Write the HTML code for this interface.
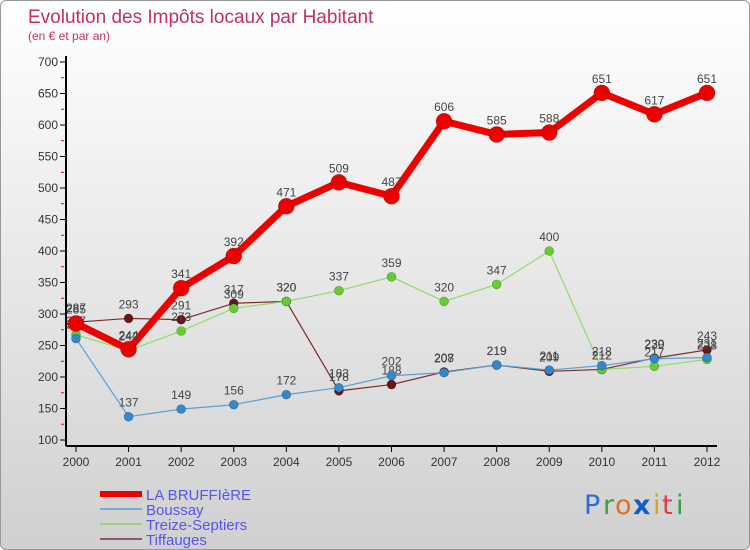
<!DOCTYPE html>
<html><head><meta charset="utf-8"><style>
body{margin:0;width:750px;height:550px;overflow:hidden;font-family:"Liberation Sans",sans-serif}
#wrap{position:absolute;left:0;top:0;width:748px;height:548px;border:1px solid #999;border-radius:6px;background:linear-gradient(#ffffff,#d0d0d0);overflow:hidden}
</style></head><body>
<div id="wrap">
<svg id="chart" width="750" height="550">
<text x="27" y="22" font-size="19" fill="#c0306a">Evolution des Impôts locaux par Habitant</text>
<text x="27" y="39" font-size="12" fill="#c0306a">(en € et par an)</text>
<g id="axes"></g><g id="series"></g><g id="legend"></g>
<g font-size="27" font-family="DejaVu Sans, sans-serif">
<text x="583" y="513" fill="#2a6fd0">P</text><text x="602" y="513" fill="#3aa040">r</text><text x="614" y="513" fill="#e07020">o</text><text x="632" y="513" fill="#1060c0" font-weight="bold">x</text><text x="652" y="513" fill="#e0a020">i</text><text x="661" y="513" fill="#e04040">t</text><text x="675" y="513" fill="#30a040">i</text>
</g>
</svg></div>
<script>
const years=["2000","2001","2002","2003","2004","2005","2006","2007","2008","2009","2010","2011","2012"];
const yTicks=[100,150,200,250,300,350,400,450,500,550,600,650,700];
const laBruffiere=[285,244,341,392,471,509,487,606,585,588,651,617,651];
const boussay=[261,137,149,156,172,183,202,207,219,211,218,229,231];
const treize=[267,242,273,309,320,337,359,320,347,400,212,217,228];
const tiffauges=[287,293,291,317,320,178,188,208,219,209,212,230,243];
const seriesNames=["LA BRUFFIèRE","Boussay","Treize-Septiers","Tiffauges"];
const NS="http://www.w3.org/2000/svg";
const X=i=>75+i*(631/12);
const Y=v=>439-(v-100)*0.63;
function mk(tag,attrs,parent){const e=document.createElementNS(NS,tag);for(const k in attrs)e.setAttribute(k,attrs[k]);parent.appendChild(e);return e;}
const ax=document.getElementById('axes');
let yl=mk('line',{x1:65,y1:55,x2:65,y2:445,stroke:'#000','stroke-width':2},ax);


let xl=mk('line',{x1:65,y1:445,x2:716,y2:445,stroke:'#000','stroke-width':2},ax);


yTicks.forEach((v,i)=>{
  mk('line',{x1:59,y1:Y(v),x2:65,y2:Y(v),stroke:'#000'},ax);
  if(i<yTicks.length-1) mk('line',{x1:60,y1:Y(v+25),x2:63,y2:Y(v+25),stroke:'#e00'},ax);
  const t=mk('text',{x:57,y:Y(v)+4,'text-anchor':'end','font-size':12,fill:'#333'},ax);t.textContent=v;
  
  
});
years.forEach((y,i)=>{
  mk('line',{x1:X(i),y1:445,x2:X(i),y2:451,stroke:'#000'},ax);
  const t=mk('text',{x:X(i),y:465,'text-anchor':'middle','font-size':12,fill:'#333'},ax);t.textContent=y;
  
  
});
const sg=document.getElementById('series');
const defs=[[tiffauges,'#7a2a2a','#6a1515',1.2,4.5,'tiffauges'],[treize,'#8fdc6a','#66cc33',1.2,4.5,'treize-septiers'],[boussay,'#5a9fd4','#3388cc',1.2,4.5,'boussay'],[laBruffiere,'#ee0000','#ee0000',7,8,'la-bruffiere']];
defs.forEach(([d,c,fc,w,r,n])=>{
  const g=mk('g',{},sg);
  
  
  const p=mk('polyline',{points:d.map((v,i)=>X(i)+','+Y(v)).join(' '),fill:'none',stroke:c,'stroke-width':w,'stroke-linejoin':'round'},g);
  
  
  d.forEach((v,i)=>{
    const cc=mk('circle',{cx:X(i),cy:Y(v),r:r,fill:fc,stroke:'rgba(0,0,0,0.3)','stroke-width':0.6},g);
    
    
    const t=mk('text',{x:X(i),y:Y(v)-10,'text-anchor':'middle','font-size':12,fill:'#444'},g);t.textContent=v;
    
    
  });
});
const lg=document.getElementById('legend');
const lc=[['#ee0000',6],['#7aaad0',2],['#9ad47a',2],['#8a5a5a',2]];
seriesNames.forEach((s,i)=>{
  const yy=493+i*15;
  const e=mk('g',{},lg);
  
  
  mk('line',{x1:99,y1:yy,x2:141,y2:yy,stroke:lc[i][0],'stroke-width':lc[i][1]},e);
  const t=mk('text',{x:145,y:yy+6,'font-size':15,fill:'#5555ee'},e);t.textContent=s;
});
</script>
</body></html>
